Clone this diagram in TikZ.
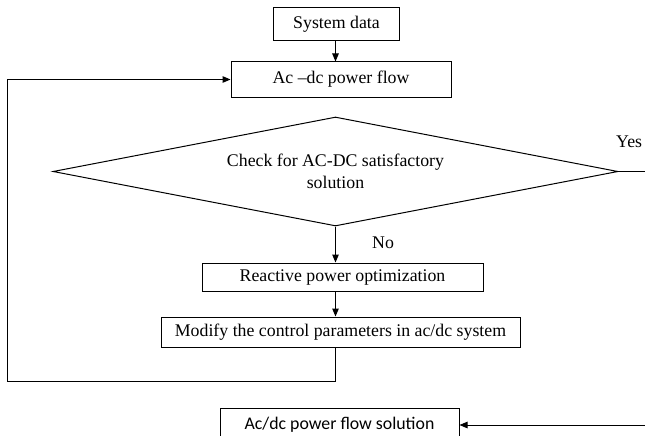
\documentclass[tikz,border=0pt]{standalone}
\usepackage{fontspec}
\setmainfont{Liberation Serif}
\newfontfamily\calfont{Carlito}
\usetikzlibrary{shapes.geometric,arrows.meta,calc}
\begin{document}
\begin{tikzpicture}[x=1pt,y=-1pt,
  every node/.style={font=\fontsize{17.8}{21.5}\selectfont},
  box/.style={draw,line width=1pt,inner sep=0pt,align=center},
  conn/.style={line width=1pt},
  arr/.style={conn,-{Triangle[length=8pt,width=6.5pt]}}]
\useasboundingbox (0,0) rectangle (645,436);
\node[box,minimum width=126pt,minimum height=33pt] (sys) at (336.5,24.5) {System data};
\node[box,minimum width=220pt,minimum height=35pt] (acdc) at (341,79.5) {Ac –dc power flow};
\node[diamond,draw,line width=1pt,inner sep=0pt,align=center,aspect=5.18,
      minimum width=565pt,minimum height=109pt] (dia) at (335.5,171.5)
      {Check for AC-DC satisfactory\\solution};
\node[box,minimum width=281pt,minimum height=28pt] (react) at (342.5,277) {Reactive power optimization};
\node[box,minimum width=359pt,minimum height=30pt] (modify) at (340.5,332) {Modify the control parameters in ac/dc system};
\node[box,minimum width=239pt,minimum height=34pt,font=\calfont\fontsize{17.8}{21.5}\selectfont] (sol) at (339.5,425) {Ac/dc power flow solution};
\node[anchor=base west,inner sep=0pt] (yes) at (616,147) {Yes};
\node[anchor=base west,inner sep=0pt] (no) at (372,248) {No};
\coordinate (lb) at (7,381);
\coordinate (yesend) at (646,171.5);
\coordinate (solin) at (646,425);
\draw[arr] (sys.south -| dia.north) -- (dia.north |- acdc.north);
\draw[arr] (dia.south) -- (dia.south |- react.north);
\draw[arr] (dia.south |- react.south) -- (dia.south |- modify.north);
\draw[conn] (dia.south |- modify.south) |- (lb);
\draw[arr] (lb) |- (acdc.west);
\draw[conn] (dia.east) -- (yesend);
\draw[arr] (solin) -- (sol.east);
\end{tikzpicture}
\end{document}
